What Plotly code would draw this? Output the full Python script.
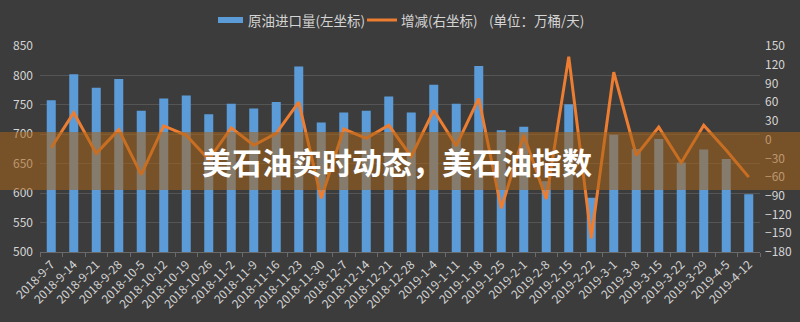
import plotly.graph_objects as go

dates = ["2018-9-7", "2018-9-14", "2018-9-21", "2018-9-28", "2018-10-5", "2018-10-12",
         "2018-10-19", "2018-10-26", "2018-11-2", "2018-11-9", "2018-11-16", "2018-11-23",
         "2018-11-30", "2018-12-7", "2018-12-14", "2018-12-21", "2018-12-28", "2019-1-4",
         "2019-1-11", "2019-1-18", "2019-1-25", "2019-2-1", "2019-2-8", "2019-2-15",
         "2019-2-22", "2019-3-1", "2019-3-8", "2019-3-15", "2019-3-22", "2019-3-29",
         "2019-4-5", "2019-4-12"]
imports = [758, 802, 779, 794, 740, 761, 766, 734, 752, 744, 755, 815, 720, 737, 740, 764,
           737, 784, 752, 816, 707, 713, 620, 751, 592, 699, 675, 692, 652, 674, 658, 598]
changes = [-13, 43, -22, 16, -56, 22, 7, -32, 19, -9, 10, 60, -94, 17, 2, 23,
           -27, 47, -10, 66, -110, 7, -95, 133, -158, 108, -25, 20, -37, 23, -17, -60]

left_ticks = [500, 550, 600, 650, 700, 750, 800, 850]
right_ticks = [-180, -150, -120, -90, -60, -30, 0, 30, 60, 90, 120, 150]

bar_name = "原油进口量(左坐标)"
line_name = "增减(右坐标)"
unit_text = "(单位：万桶/天)"
title_text = "美石油实时动态，美石油指数"

FONT = "Noto Sans CJK SC"
TXT = "#d4d4d4"
BG = "#3c3c3c"
BLUE = "#5b9bd8"
ORANGE = "#ed7d31"

fig = go.Figure()
fig.add_trace(go.Bar(x=dates, y=imports, name=bar_name,
                     marker=dict(color=BLUE, line=dict(width=0)),
                     width=0.4, yaxis="y"))
fig.add_trace(go.Scatter(x=dates, y=changes, name=line_name, mode="lines",
                         line=dict(color=ORANGE, width=3), yaxis="y2"))

W, H = 800, 322
L, R, T, B = 40, 40, 46, 70
pw, ph = W - L - R, H - T - B

def px_x(x):
    return (x - L) / pw

def px_y(y):
    return (H - B - y) / ph

fig.update_layout(
    width=W, height=H,
    margin=dict(l=L, r=R, t=T, b=B, autoexpand=False),
    paper_bgcolor=BG, plot_bgcolor=BG,
    font=dict(family=FONT, color=TXT, size=12),
    showlegend=False,
    bargap=0.6,
    xaxis=dict(type="category", tickangle=-45, tickfont=dict(size=12, color=TXT),
               showgrid=False, showline=True, linecolor="#6a6a6a", linewidth=1,
               ticks="outside", tickson="boundaries", ticklen=4, tickcolor="#6a6a6a",
               range=[-0.5, len(dates) - 0.5], automargin=False),
    yaxis=dict(range=[500, 850], tickvals=left_ticks, showgrid=True, gridcolor="#555555",
               gridwidth=1, zeroline=False, tickfont=dict(size=12, color=TXT), ticks="",
               ticklabelstandoff=6, automargin=False),
    yaxis2=dict(range=[-180, 150], tickvals=right_ticks, overlaying="y", side="right",
                showgrid=False, zeroline=False, tickfont=dict(size=12, color=TXT), ticks="",
                ticklabelstandoff=4, automargin=False),
)

# legend drawn at top
fig.add_shape(type="rect", xref="paper", yref="paper",
              x0=px_x(218), x1=px_x(243), y0=px_y(23), y1=px_y(17),
              fillcolor=BLUE, line=dict(width=0))
fig.add_annotation(text=bar_name, xref="paper", yref="paper",
                   x=px_x(246), y=px_y(20), xanchor="left", yanchor="middle",
                   showarrow=False, font=dict(size=13.5, color=TXT, family=FONT))
fig.add_shape(type="line", xref="paper", yref="paper",
              x0=px_x(367), x1=px_x(397), y0=px_y(20), y1=px_y(20),
              line=dict(color=ORANGE, width=3))
fig.add_annotation(text=line_name, xref="paper", yref="paper",
                   x=px_x(399), y=px_y(20), xanchor="left", yanchor="middle",
                   showarrow=False, font=dict(size=13.5, color=TXT, family=FONT))
fig.add_annotation(text=unit_text, xref="paper", yref="paper",
                   x=px_x(487), y=px_y(20), xanchor="left", yanchor="middle",
                   showarrow=False, font=dict(size=13.5, color=TXT, family=FONT))

# translucent orange banner with title
fig.add_shape(type="rect", xref="paper", yref="paper",
              x0=px_x(0), x1=px_x(W), y0=px_y(190), y1=px_y(132),
              fillcolor="rgba(168,98,24,0.55)", line=dict(width=0), layer="above")
fig.add_annotation(text="<b>" + title_text + "</b>", xref="paper", yref="paper",
                   x=px_x(397), y=px_y(161), xanchor="center", yanchor="middle",
                   showarrow=False, font=dict(size=30, color="#ffffff", family=FONT))

fig.write_html("out.html")
